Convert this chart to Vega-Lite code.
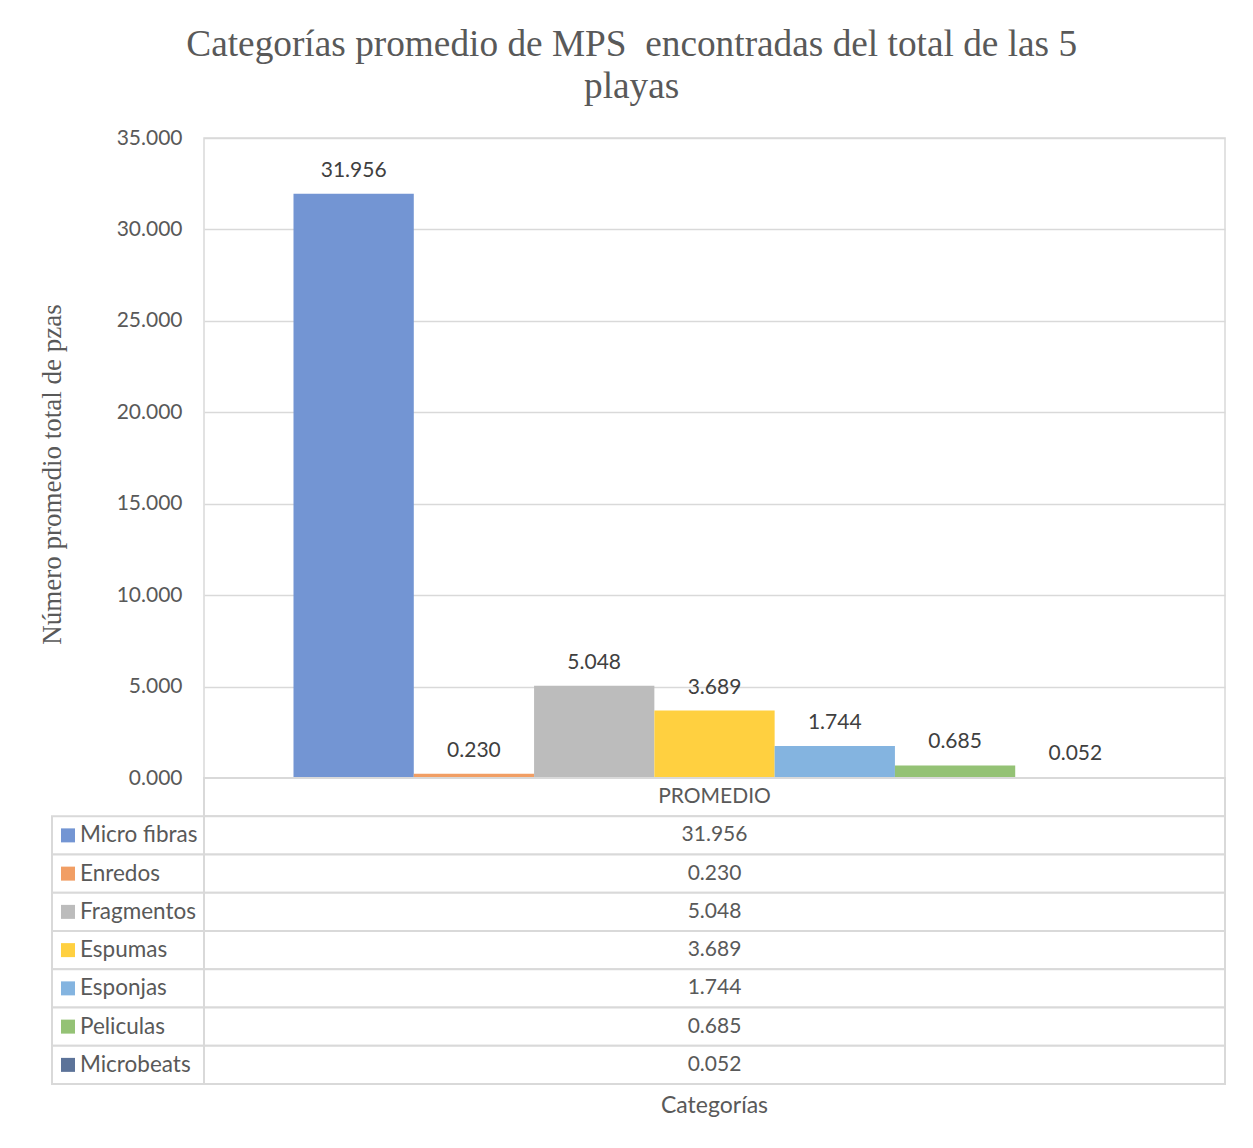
{
  "$schema": "https://vega.github.io/schema/vega-lite/v6.json",
  "background": "white",
  "padding": {"left": 37, "top": 25, "right": 10, "bottom": 10},
  "title": {
    "text": ["Categorías promedio de MPS\u00a0 encontradas del total de las 5", "playas"],
    "font": "Liberation Serif",
    "fontSize": 37.3,
    "fontWeight": "normal",
    "color": "#595959",
    "lineHeight": 42,
    "anchor": "middle",
    "offset": 20
  },
  "datasets": {
    "mps": [
      {"categoria": "Micro fibras", "valor": 31.956},
      {"categoria": "Enredos", "valor": 0.230},
      {"categoria": "Fragmentos", "valor": 5.048},
      {"categoria": "Espumas", "valor": 3.689},
      {"categoria": "Esponjas", "valor": 1.744},
      {"categoria": "Peliculas", "valor": 0.685},
      {"categoria": "Microbeats", "valor": 0.052}
    ],
    "encabezado": [
      {"categoria": "PROMEDIO", "texto": "PROMEDIO"}
    ]
  },
  "columns": 2,
  "spacing": 0,
  "bounds": "flush",
  "concat": [
    {
      "width": 152,
      "height": 640,
      "view": {"stroke": null},
      "data": {"values": [{}]},
      "mark": {"type": "rule", "opacity": 0},
      "encoding": {}
    },
    {
      "width": 1021,
      "height": 640,
      "data": {"name": "mps"},
      "encoding": {
        "x": {
          "field": "categoria",
          "type": "nominal",
          "sort": null,
          "scale": {"type": "band", "paddingInner": 0, "paddingOuter": 0.744},
          "axis": null
        },
        "y": {
          "field": "valor",
          "type": "quantitative",
          "scale": {"domain": [0, 35], "nice": false},
          "axis": {
            "values": [0, 5, 10, 15, 20, 25, 30, 35],
            "format": ".3f",
            "title": "Número promedio total de pzas",
            "titleFont": "Liberation Serif",
            "titleFontSize": 27,
            "titleFontWeight": "normal",
            "titleColor": "#595959",
            "titlePadding": 50,
            "titleY": 336,
            "labelFont": "Lato",
            "labelFontSize": 21,
            "labelColor": "#595959",
            "labelPadding": 22,
            "ticks": false,
            "domain": false,
            "grid": true,
            "gridColor": "#d9d9d9",
            "gridWidth": 1.5
          }
        }
      },
      "layer": [
        {
          "mark": {"type": "bar"},
          "encoding": {
            "color": {
              "field": "categoria",
              "type": "nominal",
              "sort": null,
              "scale": {
                "domain": ["Micro fibras", "Enredos", "Fragmentos", "Espumas", "Esponjas", "Peliculas", "Microbeats"],
                "range": ["#7395d3", "#f19e64", "#bcbcbc", "#ffd040", "#84b4e0", "#94c275", "#5c7399"]
              },
              "legend": null
            }
          }
        },
        {
          "mark": {"type": "text", "baseline": "alphabetic", "dy": -17, "font": "Lato", "fontSize": 21, "color": "#404040"},
          "encoding": {"text": {"field": "valor", "type": "quantitative", "format": ".3f"}}
        }
      ]
    },
    {
      "width": 152,
      "height": 306,
      "view": {"stroke": null},
      "data": {"name": "mps"},
      "encoding": {
        "y": {
          "field": "categoria",
          "type": "nominal",
          "scale": {
            "type": "band",
            "paddingInner": 0,
            "paddingOuter": 0,
            "domain": ["PROMEDIO", "Micro fibras", "Enredos", "Fragmentos", "Espumas", "Esponjas", "Peliculas", "Microbeats"]
          },
          "axis": null
        }
      },
      "layer": [
        {"mark": {"type": "rect", "fill": "white", "stroke": "#d9d9d9", "strokeWidth": 2}},
        {
          "mark": {"type": "point", "shape": "square", "filled": true, "size": 196, "opacity": 1, "x": 16},
          "encoding": {
            "color": {
              "field": "categoria",
              "type": "nominal",
              "scale": {
                "domain": ["Micro fibras", "Enredos", "Fragmentos", "Espumas", "Esponjas", "Peliculas", "Microbeats"],
                "range": ["#7395d3", "#f19e64", "#bcbcbc", "#ffd040", "#84b4e0", "#94c275", "#5c7399"]
              },
              "legend": null
            }
          }
        },
        {
          "mark": {"type": "text", "align": "left", "baseline": "middle", "x": 28, "font": "Lato", "fontSize": 22.5, "color": "#595959"},
          "encoding": {"text": {"field": "categoria", "type": "nominal"}}
        }
      ]
    },
    {
      "width": 1021,
      "height": 306,
      "view": {"stroke": null},
      "title": {
        "text": "Categorías",
        "orient": "bottom",
        "anchor": "middle",
        "frame": "group",
        "font": "Lato",
        "fontSize": 23,
        "fontWeight": "normal",
        "color": "#595959",
        "offset": 10
      },
      "encoding": {
        "y": {
          "field": "categoria",
          "type": "nominal",
          "scale": {
            "type": "band",
            "paddingInner": 0,
            "paddingOuter": 0,
            "domain": ["PROMEDIO", "Micro fibras", "Enredos", "Fragmentos", "Espumas", "Esponjas", "Peliculas", "Microbeats"]
          },
          "axis": null
        }
      },
      "layer": [
        {
          "data": {"name": "encabezado"},
          "mark": {"type": "rect", "fill": "white", "stroke": "#d9d9d9", "strokeWidth": 2}
        },
        {
          "data": {"name": "encabezado"},
          "mark": {"type": "text", "baseline": "middle", "font": "Lato", "fontSize": 21, "color": "#595959"},
          "encoding": {"text": {"field": "texto", "type": "nominal"}}
        },
        {
          "data": {"name": "mps"},
          "mark": {"type": "rect", "fill": "white", "stroke": "#d9d9d9", "strokeWidth": 2}
        },
        {
          "data": {"name": "mps"},
          "mark": {"type": "text", "baseline": "middle", "font": "Lato", "fontSize": 21, "color": "#595959"},
          "encoding": {"text": {"field": "valor", "type": "quantitative", "format": ".3f"}}
        }
      ]
    }
  ],
  "config": {
    "view": {"stroke": "#d9d9d9", "strokeWidth": 1.5},
    "font": "Lato"
  }
}
